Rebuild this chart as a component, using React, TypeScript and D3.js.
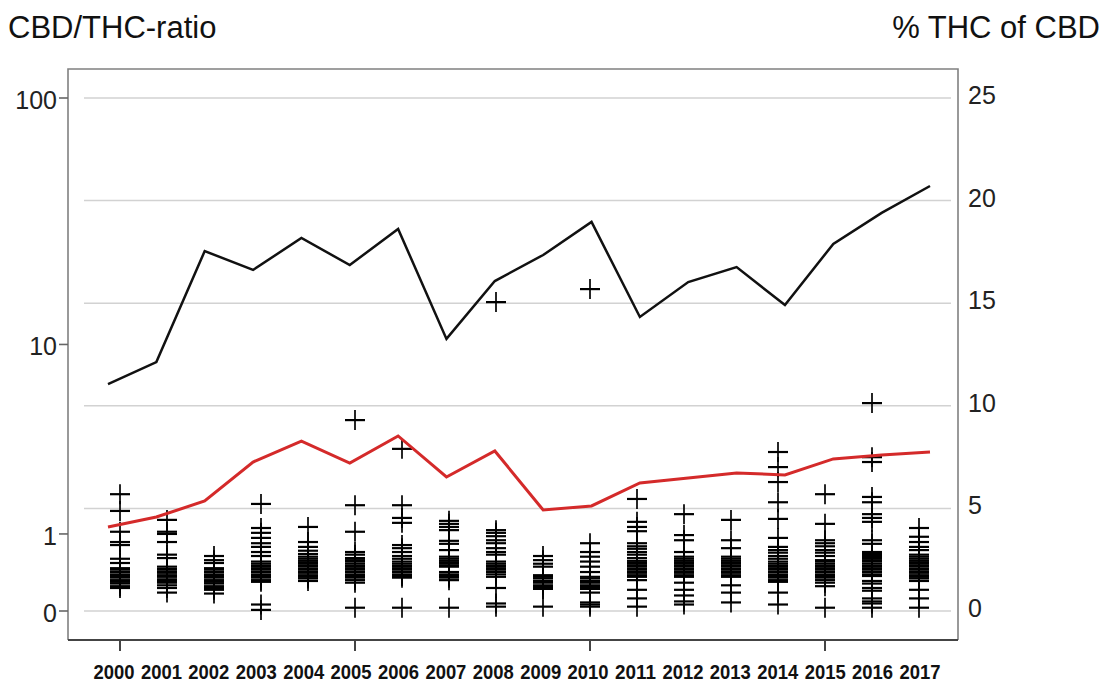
import * as d3 from "d3";

// years on the x axis
const years = [
  2000, 2001, 2002, 2003, 2004, 2005, 2006, 2007, 2008, 2009, 2010, 2011, 2012,
  2013, 2014, 2015, 2016, 2017,
];

// black line, % (right axis)
const blackLine = [
  11.06, 12.13, 17.54, 16.62, 18.18, 16.86, 18.62, 13.26, 16.08, 17.35, 18.96,
  14.33, 16.03, 16.76, 14.91, 17.89, 19.4, 20.71,
];

// red line, % (right axis)
const redLine = [
  4.09, 4.58, 5.36, 7.26, 8.28, 7.21, 8.53, 6.53, 7.8, 4.92, 5.12, 6.24, 6.48,
  6.73, 6.63, 7.41, 7.6, 7.75,
];

// individual CBD/THC ratios per sample, one list per year (left axis)
const ratios: number[][] = [
  [1.86, 1.46, 1.04, 0.86, 0.81, 0.6, 0.54, 0.47, 0.45, 0.42, 0.39, 0.37, 0.35, 0.32, 0.3, 0.28, 0.25, 0.23],
  [1.27, 1.04, 1.0, 0.86, 0.66, 0.61, 0.49, 0.46, 0.43, 0.41, 0.38, 0.36, 0.33, 0.31, 0.29, 0.26, 0.23, 0.18],
  [0.64, 0.58, 0.54, 0.47, 0.45, 0.42, 0.39, 0.37, 0.35, 0.32, 0.3, 0.28, 0.25, 0.23, 0.21, 0.17],
  [1.62, 1.11, 1.02, 0.93, 0.84, 0.78, 0.7, 0.64, 0.56, 0.53, 0.5, 0.47, 0.45, 0.42, 0.39, 0.37, 0.35, 0.32, 0.3, 0.06, 0.01],
  [1.13, 0.86, 0.78, 0.72, 0.67, 0.63, 0.6, 0.57, 0.54, 0.51, 0.49, 0.46, 0.43, 0.41, 0.38, 0.36, 0.34, 0.31],
  [4.57, 1.59, 1.04, 0.7, 0.66, 0.61, 0.58, 0.56, 0.53, 0.5, 0.47, 0.45, 0.42, 0.39, 0.37, 0.35, 0.32, 0.29, 0.03],
  [3.3, 1.59, 1.31, 1.21, 0.81, 0.76, 0.7, 0.64, 0.6, 0.56, 0.53, 0.5, 0.47, 0.45, 0.42, 0.39, 0.37, 0.35, 0.03],
  [1.25, 1.19, 1.13, 1.07, 0.88, 0.83, 0.73, 0.63, 0.6, 0.57, 0.54, 0.51, 0.49, 0.42, 0.39, 0.37, 0.35, 0.32, 0.03],
  [15.1, 1.07, 1.02, 0.96, 0.89, 0.84, 0.76, 0.7, 0.66, 0.56, 0.53, 0.5, 0.47, 0.45, 0.42, 0.39, 0.36, 0.23, 0.07, 0.04],
  [0.64, 0.58, 0.53, 0.49, 0.38, 0.36, 0.34, 0.31, 0.29, 0.26, 0.24, 0.22, 0.04],
  [17.1, 0.84, 0.7, 0.63, 0.56, 0.49, 0.42, 0.36, 0.34, 0.31, 0.29, 0.26, 0.24, 0.22, 0.18, 0.08, 0.06, 0.04],
  [1.74, 1.23, 1.13, 1.05, 0.84, 0.79, 0.75, 0.7, 0.66, 0.61, 0.57, 0.54, 0.51, 0.49, 0.46, 0.43, 0.41, 0.38, 0.36, 0.32, 0.21, 0.12, 0.04],
  [1.39, 0.98, 0.89, 0.7, 0.63, 0.6, 0.57, 0.54, 0.51, 0.49, 0.46, 0.43, 0.41, 0.38, 0.36, 0.29, 0.21, 0.15, 0.09, 0.06],
  [1.27, 0.89, 0.76, 0.63, 0.6, 0.57, 0.54, 0.51, 0.49, 0.46, 0.43, 0.41, 0.38, 0.36, 0.26, 0.18, 0.08],
  [3.18, 2.65, 2.19, 1.66, 1.29, 0.93, 0.78, 0.73, 0.69, 0.64, 0.6, 0.56, 0.53, 0.5, 0.47, 0.45, 0.42, 0.39, 0.37, 0.35, 0.32, 0.3, 0.18, 0.06],
  [1.86, 1.19, 0.89, 0.84, 0.79, 0.73, 0.69, 0.64, 0.58, 0.56, 0.53, 0.5, 0.47, 0.45, 0.42, 0.39, 0.37, 0.35, 0.32, 0.29, 0.25, 0.03],
  [5.49, 2.99, 2.82, 1.79, 1.66, 1.39, 1.31, 1.23, 0.89, 0.83, 0.7, 0.67, 0.64, 0.61, 0.58, 0.56, 0.53, 0.5, 0.47, 0.45, 0.42, 0.39, 0.37, 0.31, 0.28, 0.23, 0.2, 0.12, 0.09, 0.07, 0.03],
  [1.11, 0.95, 0.86, 0.78, 0.73, 0.66, 0.63, 0.6, 0.57, 0.54, 0.51, 0.49, 0.46, 0.43, 0.41, 0.38, 0.36, 0.34, 0.31, 0.21, 0.12, 0.03],
];

const leftTicks = [0, 1, 10, 100];
const rightTicks = [0, 5, 10, 15, 20, 25];
const xTicks = [2000, 2005, 2010, 2015];

const W = 1105;
const H = 685;
const frame = { left: 68, right: 958, top: 69, bottom: 640 };
const font = "'Liberation Sans', Arial, sans-serif";

export default function App() {
  // left axis is log(x + 1)
  const yLeft = d3.scaleSymlog().constant(1).domain([0, 100]).range([611, 98]);
  const yRight = d3.scaleLinear().domain([0, 25]).range([611, 98]);
  const xPts = d3.scaleLinear().domain([2000, 2017]).range([120, 919]);
  const xLine = d3.scaleLinear().domain([2000, 2017]).range([108, 930]);
  const xLabel = d3.scaleLinear().domain([2000, 2017]).range([114, 920]);

  const line = d3
    .line<number>()
    .x((_, i) => xLine(years[i]))
    .y((d) => yRight(d));

  const half = 10;

  return (
    <svg
      width={W}
      height={H}
      style={{ position: "absolute", left: 0, top: 0, background: "#fff" }}
      fontFamily={font}
    >
      <text x={8} y={38} fontSize={31} fill="#111">
        CBD/THC-ratio
      </text>
      <text x={1100} y={38} fontSize={31} fill="#111" textAnchor="end">
        % THC of CBD
      </text>

      {/* grid */}
      {rightTicks.map((t) => (
        <line
          key={"g" + t}
          x1={84}
          x2={951}
          y1={yRight(t)}
          y2={yRight(t)}
          stroke="#d2d2d2"
          strokeWidth={1.5}
        />
      ))}

      {/* sample markers */}
      {ratios.map((vals, i) =>
        vals.map((v, j) => {
          const cx = xPts(years[i]);
          const cy = yLeft(v);
          return (
            <g key={`p${i}-${j}`} stroke="#000" strokeWidth={2.2}>
              <line x1={cx - half} x2={cx + half} y1={cy} y2={cy} />
              <line x1={cx} x2={cx} y1={cy - half} y2={cy + half} strokeWidth={1.7} />
            </g>
          );
        })
      )}

      <path d={line(blackLine) ?? ""} fill="none" stroke="#111" strokeWidth={2.5} />
      <path d={line(redLine) ?? ""} fill="none" stroke="#d42a2a" strokeWidth={3} />

      {/* frame */}
      <path
        d={`M${frame.left},${frame.bottom}V${frame.top}H${frame.right}V${frame.bottom}`}
        fill="none"
        stroke="#808080"
        strokeWidth={1.6}
      />
      <line
        x1={frame.left}
        x2={frame.right}
        y1={frame.bottom}
        y2={frame.bottom}
        stroke="#444"
        strokeWidth={2.2}
      />

      {/* left axis */}
      {leftTicks.map((t) => (
        <g key={"l" + t}>
          <line x1={59} x2={frame.left} y1={yLeft(t)} y2={yLeft(t)} stroke="#666" strokeWidth={1.6} />
          <text x={57} y={yLeft(t) + 2} fontSize={25} textAnchor="end" dominantBaseline="central" fill="#222">
            {t}
          </text>
        </g>
      ))}

      {/* right axis */}
      {rightTicks.map((t) => (
        <text key={"r" + t} x={968} y={yRight(t) - 3} fontSize={25} dominantBaseline="central" fill="#222">
          {t}
        </text>
      ))}

      {/* x axis */}
      {xTicks.map((t) => (
        <line key={"xt" + t} x1={xPts(t)} x2={xPts(t)} y1={frame.bottom} y2={651} stroke="#444" strokeWidth={2} />
      ))}
      {years.map((yr) => (
        <text
          key={"xl" + yr}
          x={xLabel(yr)}
          y={679}
          fontSize={21}
          fontWeight="bold"
          textAnchor="middle"
          textLength={41}
          lengthAdjust="spacingAndGlyphs"
          fill="#111"
        >
          {yr}
        </text>
      ))}
    </svg>
  );
}
